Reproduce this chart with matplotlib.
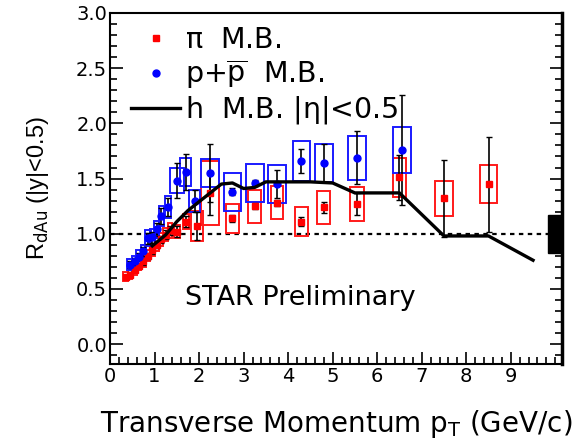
import numpy as np
import matplotlib
matplotlib.use("Agg")
import matplotlib.pyplot as plt
from matplotlib.patches import Rectangle
from matplotlib.lines import Line2D
from matplotlib.ticker import MultipleLocator

plt.rcParams['font.family'] = ['DejaVu Sans']
plt.rcParams['mathtext.fontset'] = 'custom'
plt.rcParams['mathtext.rm'] = 'DejaVu Sans'
plt.rcParams['mathtext.it'] = 'DejaVu Sans'

# pions
pi_pt = [0.35, 0.45, 0.55, 0.65, 0.75, 0.85, 0.95, 1.05, 1.15, 1.25, 1.35, 1.5, 1.7, 1.95,
         2.25, 2.75, 3.25, 3.75, 4.3, 4.8, 5.55, 6.5, 7.5, 8.5]
pi_r = [0.61, 0.63, 0.67, 0.71, 0.75, 0.80, 0.85, 0.90, 0.95, 0.99, 1.03, 1.02, 1.11, 1.07,
        1.37, 1.14, 1.25, 1.28, 1.11, 1.24, 1.27, 1.51, 1.32, 1.45]
pi_stat = [0.02, 0.02, 0.02, 0.02, 0.03, 0.03, 0.03, 0.03, 0.03, 0.04, 0.04, 0.05, 0.05, 0.13,
           0.2, 0.03, 0.03, 0.03, 0.04, 0.05, 0.1, 0.2, 0.35, 0.43]
pi_sys = [0.04, 0.04, 0.04, 0.04, 0.05, 0.05, 0.05, 0.06, 0.06, 0.06, 0.07, 0.06, 0.07, 0.14,
          0.29, 0.13, 0.15, 0.15, 0.13, 0.15, 0.15, 0.18, 0.16, 0.17]
pi_bw = [0.05] * 11 + [0.07, 0.07, 0.14, 0.2, 0.14, 0.14, 0.14, 0.15, 0.15, 0.15, 0.15, 0.2, 0.2]

# protons
p_pt = [0.45, 0.55, 0.65, 0.75, 0.85, 0.95, 1.05, 1.15, 1.3, 1.5, 1.7, 1.9,
        2.25, 2.75, 3.25, 3.75, 4.3, 4.8, 5.55, 6.55]
p_r = [0.72, 0.75, 0.79, 0.84, 0.96, 0.97, 1.04, 1.16, 1.24, 1.48, 1.56, 1.30,
       1.55, 1.38, 1.46, 1.45, 1.66, 1.64, 1.69, 1.76]
p_stat = [0.03, 0.03, 0.04, 0.04, 0.05, 0.05, 0.06, 0.07, 0.08, 0.16, 0.16, 0.1,
          0.26, 0.03, 0.03, 0.125, 0.11, 0.17, 0.24, 0.5]
p_sys = [0.05, 0.05, 0.06, 0.06, 0.07, 0.07, 0.08, 0.09, 0.1, 0.115, 0.125, 0.1,
         0.13, 0.17, 0.17, 0.17, 0.18, 0.17, 0.2, 0.21]
p_bw = [0.06] * 9 + [0.16, 0.12, 0.12, 0.2, 0.2, 0.2, 0.2, 0.2, 0.2, 0.2, 0.2]

# charged hadrons
h_pt = [0.95, 1.25, 1.5, 1.75, 2.0, 2.25, 2.5, 2.75, 3.0, 3.25, 3.5, 4.0, 4.5, 5.0, 5.5, 6.5, 7.5, 8.5, 9.5]
h_r = [0.89, 0.99, 1.11, 1.21, 1.29, 1.37, 1.45, 1.46, 1.41, 1.42, 1.47, 1.47, 1.47, 1.46, 1.37, 1.37, 0.98, 0.98, 0.76]

norm_err = 0.17

fig = plt.figure(figsize=(5.79, 4.48), dpi=100)
ax = fig.add_axes([0.190, 0.1875, 0.7806, 0.7835])

for x, y, bw, s in zip(pi_pt, pi_r, pi_bw, pi_sys):
    ax.add_patch(Rectangle((x - bw, y - s), 2 * bw, 2 * s, fill=False, ec='#ff1a1a', lw=1.4, zorder=2))
for x, y, bw, s in zip(p_pt, p_r, p_bw, p_sys):
    ax.add_patch(Rectangle((x - bw, y - s), 2 * bw, 2 * s, fill=False, ec='#1a1aff', lw=1.4, zorder=2))

ax.axhline(1.0, color='black', ls=(0, (2, 2)), lw=1.6, zorder=1)

ax.errorbar(pi_pt, pi_r, yerr=pi_stat, fmt='none', ecolor='black', elinewidth=1.2, capsize=2, zorder=3)
ax.errorbar(p_pt, p_r, yerr=p_stat, fmt='none', ecolor='black', elinewidth=1.2, capsize=2, zorder=3)
ax.plot(pi_pt, pi_r, 's', color='red', ms=5, mec='red', zorder=4)
ax.plot(p_pt, p_r, 'o', color='blue', ms=5, mec='blue', zorder=4)
ax.plot(h_pt, h_r, '-', color='black', lw=2.4, zorder=5)

ax.add_patch(Rectangle((9.83, 1 - norm_err), 0.32, 2 * norm_err, color='black', zorder=6, clip_on=False))

ax.set_xlim(0, 10.15)
ax.set_ylim(-0.18, 3.0)
ax.xaxis.set_minor_locator(MultipleLocator(0.2))
ax.yaxis.set_minor_locator(MultipleLocator(0.1))
ax.set_xticks(range(0, 10))
ax.set_yticks(np.arange(0, 3.01, 0.5))
ax.set_yticklabels(['%.1f' % v for v in np.arange(0, 3.01, 0.5)])
ax.tick_params(which='both', direction='in', top=False, right=True, labelsize=14, width=1.2)
ax.tick_params(which='major', length=9)
ax.tick_params(which='minor', length=5)
ax.tick_params(axis='x', which='major', pad=2)
ax.tick_params(axis='y', which='major', pad=2)
for sp in ax.spines.values():
    sp.set_linewidth(1.5)
ax.spines['right'].set_linewidth(2.5)

ax.set_xlabel(r'Transverse Momentum p$_{\rm T}$ (GeV/c)', fontsize=20, labelpad=16)
ax.set_ylabel(r'R$_{\rm dAu}$ (|y|<0.5)', fontsize=17, labelpad=18, family='Liberation Sans')

ax.text(4.27, 0.42, 'STAR Preliminary', fontsize=19.5, ha='center', va='center')

handles = [Line2D([], [], marker='s', ls='none', color='red', ms=5),
           Line2D([], [], marker='o', ls='none', color='blue', ms=5),
           Line2D([], [], color='black', lw=2.4)]
labels = [r'$\pi$  M.B.', r'p+$\overline{\rm p}$  M.B.', r'h  M.B. |$\eta$|<0.5']
ax.legend(handles, labels, loc='upper left', bbox_to_anchor=(0.022, 0.995), frameon=False,
          fontsize=20.5, handlelength=1.7, labelspacing=0.12, handletextpad=0.2, borderaxespad=0)

fig.savefig('out.png', dpi=100)
